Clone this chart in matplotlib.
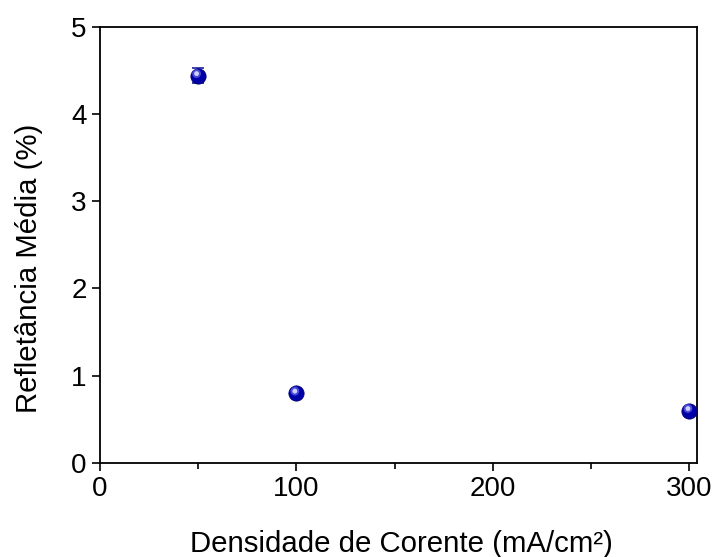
import matplotlib
matplotlib.use('Agg')
import matplotlib.pyplot as plt
from matplotlib.ticker import MultipleLocator
from matplotlib.transforms import ScaledTranslation

plt.rcParams['font.family'] = ['Liberation Sans', 'DejaVu Sans']

# Data
densidade = [50, 100, 300]
refletancia = [4.44, 0.80, 0.60]
erro = [0.09, 0.03, 0.03]

fig = plt.figure(figsize=(7.13, 5.57), dpi=100)
ax = fig.add_axes([0.140, 0.169, 0.838, 0.783])

ax.errorbar(densidade, refletancia, yerr=erro, fmt='none', ecolor='#2020a0',
            elinewidth=1.2, capsize=4, capthick=1.2, zorder=2)
ax.scatter(densidade, refletancia, s=120, color='#0000a8', edgecolors='#000070',
           linewidths=0.6, zorder=3)
# soft highlight for the sphere look
shift = ax.transData + ScaledTranslation(-0.015, 0.02, fig.dpi_scale_trans)
ax.scatter(densidade, refletancia, s=40, color='#4a4ad8', edgecolors='none',
           zorder=4, transform=shift)
ax.scatter(densidade, refletancia, s=12, color='#d0d0ff', edgecolors='none',
           zorder=5, transform=shift)

ax.set_xlim(0, 304)
ax.set_ylim(0, 5)
ax.xaxis.set_major_locator(MultipleLocator(100))
ax.xaxis.set_minor_locator(MultipleLocator(50))
ax.yaxis.set_major_locator(MultipleLocator(1))

ax.tick_params(which='major', direction='out', length=6, width=1.2, labelsize=20,
               top=False, right=False)
ax.tick_params(which='minor', direction='out', length=4, width=1.2,
               top=False, right=False)
ax.tick_params(axis='y', which='minor', left=False)
for sp in ax.spines.values():
    sp.set_linewidth(1.3)

ax.set_xlabel('Densidade de Corente (mA/cm²)', fontsize=21.2)
ax.set_ylabel('Refletância Média (%)', fontsize=21.2)
ax.xaxis.set_label_coords(0.505, -0.153)
ax.yaxis.set_label_coords(-0.095, 0.447)

fig.savefig('out.png', dpi=100)
